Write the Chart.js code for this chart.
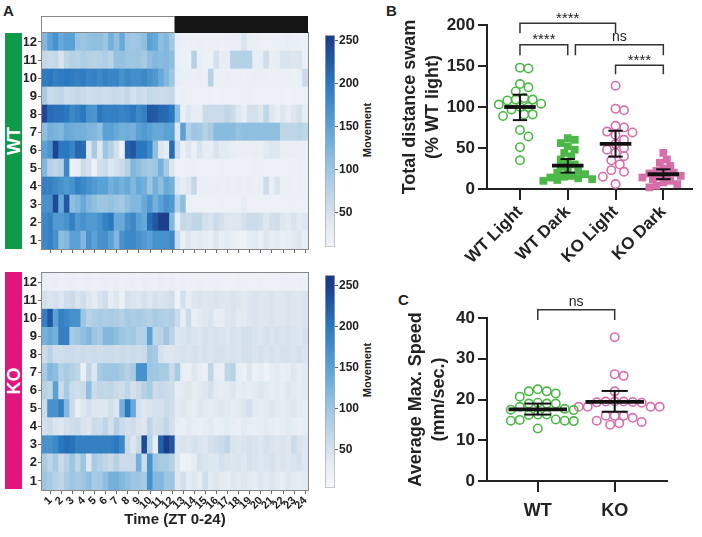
<!DOCTYPE html>
<html lang="en">
<head>
<meta charset="UTF-8">
<title>Movement</title>
<script src="https://cdn.jsdelivr.net/npm/chart.js@4.4.0/dist/chart.umd.min.js"></script>
<style>
    html, body { margin: 0; padding: 0; background: #fff; font-family: 'Liberation Sans', Arial, sans-serif; }
    #page { position: relative; width: 702px; height: 537px; overflow: hidden; }
    canvas { position: absolute; }
    .letter { position: absolute; font-weight: bold; font-size: 15px; color: #222; line-height: 1; }
    .side { position: absolute; left: 5px; width: 17px; }
    .side span, .rot span { position: absolute; left: 50%; top: 50%; white-space: nowrap; transform: translate(-50%, -50%) rotate(-90deg); }
    .side span { color: #fff; font-weight: bold; font-size: 18px; }
    .rot { position: absolute; width: 14px; height: 100px; }
    .rot span { font-size: 11px; font-weight: bold; color: #222; }
</style>
</head>
<body>
<div id="page">
    <div class="letter" style="left:3px;top:3px">A</div>
    <div class="letter" style="left:386px;top:3px">B</div>
    <div class="letter" style="left:398px;top:292px">C</div>
    <div class="side" style="top:33px;height:216px;background:#0e9a4b"><span>WT</span></div>
    <div class="side" style="top:272px;height:217px;background:#e0157d"><span>KO</span></div>
    <div class="rot" style="left:360px;top:80px"><span>Movement</span></div>
    <div class="rot" style="left:360px;top:320px"><span>Movement</span></div>
    <canvas id="heatWT" width="320" height="262" style="left:0;top:0"></canvas>
    <canvas id="heatKO" width="320" height="277" style="left:0;top:260px"></canvas>
    <canvas id="barWT" width="55" height="228" style="left:320px;top:27px"></canvas>
    <canvas id="barKO" width="55" height="229" style="left:320px;top:267px"></canvas>
    <canvas id="dist" width="322" height="262" style="left:380px;top:0"></canvas>
    <canvas id="speed" width="322" height="275" style="left:380px;top:262px"></canvas>
</div>
<script>
    const FONT = "'Liberation Sans', Arial, sans-serif";
    Chart.defaults.font.family = FONT;

    // tick labels
    const hourTicks = ['1','2','3','4','5','6','7','8','9','10','11','12','13','14','15','16','17','18','19','20','21','22','23','24'];
    const rowTicks = ['1','2','3','4','5','6','7','8','9','10','11','12'];
    const moveTicks = [50, 100, 150, 200, 250];
    const wtRange = [10, 256];
    const koRange = [3, 263];
    const lightHours = 12;

    // WT movement per half hour, fish 1..12 (first 24 bins light, last 24 dark)
    const wt1 = [180,190,170,110,120,150,150,120,170,150,170,170,150,120,170,180,180,170,160,150,170,170,170,180, 60,25,40,30,35,30,25,40,30,35,30,20,15,30,35,25,40,30,35,25,30,35,40,30];
    const wt2 = [180,190,160,160,170,190,160,170,160,160,170,190,200,140,140,170,180,150,140,210,230,250,250,120, 30,65,60,70,70,50,45,60,50,40,40,40,50,60,60,55,40,50,55,40,35,45,35,40];
    const wt3 = [170,170,240,140,230,110,120,140,120,110,100,100,105,100,95,110,120,120,140,160,130,150,170,160, 80,110,20,18,18,20,18,18,22,18,18,20,30,18,18,20,18,18,20,18,18,20,18,18];
    const wt4 = [190,190,180,170,160,170,190,180,170,160,150,150,130,140,130,140,120,140,130,100,130,110,140,130, 40,30,40,65,25,25,22,25,22,25,22,25,22,25,22,25,60,25,45,20,22,20,22,20];
    const wt5 = [120,80,70,80,180,20,25,60,50,20,50,60,40,50,60,80,120,110,100,90,100,130,90,40, 20,18,20,22,18,20,18,20,22,20,18,20,18,20,22,20,18,20,18,20,18,20,22,18];
    const wt6 = [150,165,245,200,200,185,215,210,40,90,40,100,80,50,20,220,230,200,200,180,110,40,30,210, 60,25,40,25,45,30,30,45,35,35,30,25,25,25,28,25,35,40,40,25,25,28,25,25];
    const wt7 = [110,130,125,120,140,135,130,130,125,120,110,150,150,140,130,135,130,150,160,150,140,140,150,150, 40,150,80,100,95,80,90,115,115,115,115,105,110,110,110,110,110,110,110,70,70,70,75,70];
    const wt8 = [245,210,205,205,200,180,190,200,170,165,200,190,190,190,185,190,200,180,190,230,225,215,210,200, 110,25,40,30,30,60,60,60,60,70,60,40,30,50,50,40,70,40,30,40,30,40,50,30];
    const wt9 = [90,60,65,70,55,60,65,60,55,60,60,55,60,62,55,65,50,60,55,65,60,58,60,65, 20,22,18,18,20,20,18,17,20,20,18,18,20,21,18,18,20,18,20,18,17,20,18,20];
    const wt10 = [195,200,190,195,200,195,190,195,185,190,180,190,185,185,170,180,175,175,180,170,160,140,120,100, 30,25,22,22,25,22,75,22,22,25,22,22,20,22,25,22,22,20,22,20,22,20,25,60];
    const wt11 = [65,60,65,45,70,80,75,85,80,75,80,85,75,105,105,100,100,100,90,110,120,115,120,110, 25,20,20,80,25,20,20,50,30,30,80,80,80,80,30,30,55,25,30,45,45,40,45,25];
    const wt12 = [120,150,170,140,150,150,105,100,105,110,110,100,130,110,140,100,95,100,110,150,140,110,120,95, 25,22,20,20,22,20,20,22,20,22,25,25,45,30,25,22,20,20,22,25,30,25,22,20];

    // KO movement per half hour, fish 1..12
    const ko1 = [100,90,80,70,90,100,90,100,110,90,95,110,130,130,120,110,100,100,90,170,120,120,100,100, 40,55,35,40,30,55,35,40,35,30,40,35,40,35,30,40,35,40,35,30,40,35,30,35];
    const ko2 = [90,70,90,60,80,100,70,100,40,90,80,70,60,80,60,60,60,130,60,170,100,90,90,80, 40,15,20,30,50,45,40,40,50,45,40,45,40,50,45,40,45,50,40,45,40,45,50,40];
    const ko3 = [170,170,180,200,210,205,190,190,190,190,190,190,190,200,180,60,40,60,240,80,30,220,255,230, 40,45,40,50,45,40,50,55,60,70,45,40,45,50,45,40,50,45,40,45,40,60,45,40];
    const ko4 = [50,60,45,40,50,55,60,45,40,60,55,70,50,80,60,50,55,45,40,70,50,55,70,50, 30,25,35,30,25,30,35,25,30,35,30,25,35,30,25,30,35,30,25,30,35,30,25,30];
    const ko5 = [60,170,170,190,120,60,25,40,50,40,40,40,55,40,130,200,140,50,40,45,50,50,60,55, 35,40,35,30,40,35,30,35,40,35,30,35,40,50,35,30,35,40,35,30,35,40,35,30];
    const ko6 = [80,70,150,60,90,60,55,60,110,60,70,65,70,60,55,70,50,60,80,90,60,65,60,55, 30,35,40,30,35,40,50,35,30,35,40,30,35,30,35,40,35,30,35,30,40,35,30,35];
    const ko7 = [90,120,110,80,90,80,70,25,70,40,90,100,100,100,90,80,90,170,170,100,95,90,90,60, 90,30,25,40,30,20,70,30,25,70,75,30,20,40,20,30,15,30,35,25,30,40,30,35];
    const ko8 = [60,75,55,55,60,60,55,60,55,60,55,60,60,55,60,55,60,55,60,100,90,50,40,40, 45,50,45,50,45,50,45,50,50,45,50,45,50,50,45,50,45,50,45,50,50,45,50,45];
    const ko9 = [130,140,130,190,190,90,100,110,120,100,90,120,120,110,100,90,95,80,80,150,70,75,100,75, 40,45,50,45,40,50,45,50,45,40,50,45,50,50,45,40,50,45,50,45,50,45,40,50];
    const ko10 = [190,230,150,190,180,170,170,100,75,85,90,85,90,85,80,90,85,90,85,80,90,85,80,85, 60,30,60,25,35,40,45,30,30,40,45,35,35,40,45,40,40,45,40,40,45,40,40,45];
    const ko11 = [50,45,50,40,55,60,45,55,40,30,45,55,30,40,20,50,45,40,50,40,50,45,50,55, 15,50,30,40,45,40,40,45,40,40,45,40,35,40,45,40,40,45,40,40,45,40,40,45];
    const ko12 = [25,22,25,20,22,25,20,22,25,20,22,25,22,25,20,22,25,20,25,22,20,25,22,25, 20,22,18,20,22,20,18,22,20,18,20,22,20,18,20,22,20,18,20,22,20,18,22,20];

    // B: total distance swam (% WT light)
    const distGroups = ['WT Light', 'WT Dark', 'KO Light', 'KO Dark'];
    const distTicks = [0, 50, 100, 150, 200];
    const wtLightDist = [148,147,128,124,119,111,109,109,108,104,103,100,100,97,91,91,89,72,64,51,35];
    const wtDarkDist = [62,60,56,52,48,44,40,36,33,30,27,24,22,20,18,16,15,14,13,12,11,10];
    const koLightDist = [126,98,96,77,75,70,69,66,60,55,50,48,44,40,35,30,23,21,15,6];
    const koDarkDist = [44,36,32,28,25,22,20,19,18,16,15,14,12,10,8,6,4,2];
    const distMean = [100, 28.5, 55, 18];
    const distLo = [84, 20, 39.5, 12];
    const distHi = [115, 36.6, 71, 24];

    // C: average max speed (mm/sec.)
    const speedGroups = ['WT', 'KO'];
    const speedTicks = [0, 10, 20, 30, 40];
    const wtSpeed = [22.5,22,22,21.5,20.7,19.2,19,19,19,18.2,17.7,17.5,17.4,16.3,16.3,16.2,15,14.8,14.7,14.8,15.1,12.9];
    const koSpeed = [35.3,26.2,25.8,22,19.5,19.5,19.5,19.4,19.3,19.2,18.2,18.2,18.2,18.2,16,16,16,15.5,14.8,14.5,14.2,13.8];
    const speedMean = [17.6, 19.4];
    const speedLo = [16.3, 17];
    const speedHi = [19, 22.1];

    const bracketsB = [
        { from: 1, to: 3, y: 202, tip: 190, label: '****' },
        { from: 1, to: 2, y: 176, tip: 163, label: '****' },
        { from: 2.16, to: 4, y: 176, tip: 163, label: 'ns' },
        { from: 3, to: 4, y: 151, tip: 140, label: '****' }
    ];
    const bracketsC = [{ from: 1, to: 2, y: 42, tip: 39.5, label: 'ns' }];

    const blueStops = [[0, '#f7f8fb'], [30, '#e7edf4'], [60, '#cbdbe9'], [100, '#9cc6e2'], [150, '#5aa2d5'], [200, '#2a78bf'], [250, '#1c3f8c'], [270, '#193780']];
    const green = '#4cb848', pink = '#d66eaa';

    function hexRgb(h) { return [1, 3, 5].map(i => parseInt(h.slice(i, i + 2), 16)); }
    function colorFor(v) {
        const s = blueStops;
        if (v <= s[0][0]) return s[0][1];
        for (let i = 1; i < s.length; i++) {
            if (v <= s[i][0]) {
                const t = (v - s[i - 1][0]) / (s[i][0] - s[i - 1][0]);
                const a = hexRgb(s[i - 1][1]), b = hexRgb(s[i][1]);
                return 'rgb(' + a.map((c, k) => Math.round(c + (b[k] - c) * t)).join(',') + ')';
            }
        }
        return s[s.length - 1][1];
    }

    const bold = (size) => ({ family: FONT, weight: 'bold', size });

    const frame = {
        id: 'frame',
        afterDatasetsDraw(chart) {
            const { ctx, chartArea: a } = chart;
            ctx.save();
            ctx.strokeStyle = '#888';
            ctx.lineWidth = 1;
            ctx.strokeRect(a.left - 0.5, a.top - 0.5, a.width + 1, a.height + 1);
            ctx.restore();
        }
    };

    const lightDark = {
        id: 'lightDark',
        afterDraw(chart) {
            const { ctx, chartArea: a, scales: { x } } = chart;
            const mid = (x.getPixelForValue(lightHours * 2 - 1) + x.getPixelForValue(lightHours * 2)) / 2;
            const top = a.top - 17;
            ctx.save();
            ctx.fillStyle = '#151515';
            ctx.fillRect(mid, top, a.right - mid, 17);
            ctx.strokeStyle = '#888';
            ctx.strokeRect(a.left - 0.5, top + 0.5, mid - a.left, 16);
            ctx.restore();
        }
    };

    function heatmap(id, rows, showLabels) {
        const labels = hourTicks.flatMap(h => ['', h]);
        return new Chart(document.getElementById(id), {
            type: 'bar',
            data: {
                labels,
                datasets: rows.map(row => ({
                    data: row.map(() => 1),
                    backgroundColor: row.map(colorFor),
                    borderWidth: 0,
                    barPercentage: 1,
                    categoryPercentage: 1
                }))
            },
            options: {
                responsive: false,
                animation: false,
                layout: { padding: { top: showLabels ? 13 : 33, left: 24, right: 12 } },
                plugins: { legend: { display: false }, tooltip: { enabled: false } },
                scales: {
                    x: {
                        stacked: true,
                        grid: { offset: false, drawOnChartArea: false, tickLength: 4, color: c => c.index % 2 ? '#666' : 'rgba(0,0,0,0)' },
                        border: { color: '#888' },
                        ticks: { display: showLabels, autoSkip: false, maxRotation: 45, minRotation: 45, padding: 0, color: '#222', font: bold(11) },
                        title: { display: showLabels, text: 'Time (ZT 0-24)', color: '#222', font: bold(15), padding: { top: 2, bottom: 8 } },
                        afterFit: s => { s.height = showLabels ? 47 : 13; }
                    },
                    y: {
                        stacked: true,
                        min: 0,
                        max: 12,
                        afterBuildTicks: s => { s.ticks = rowTicks.map((t, i) => ({ value: i + 0.5 })); },
                        ticks: { callback: (v, i) => rowTicks[i], color: '#222', font: bold(13), padding: 1 },
                        grid: { drawOnChartArea: false, tickLength: 4, color: '#666' },
                        border: { color: '#888' },
                        afterFit: s => { s.width = 18; }
                    }
                }
            },
            plugins: showLabels ? [frame] : [frame, lightDark]
        });
    }

    function colorbar(id, range) {
        const [lo, hi] = range;
        return new Chart(document.getElementById(id), {
            type: 'bar',
            data: {
                labels: [''],
                datasets: [{
                    data: [[lo, hi]],
                    backgroundColor: c => {
                        const ch = c.chart;
                        if (!ch.chartArea) return null;
                        const y = ch.scales.y;
                        const g = ch.ctx.createLinearGradient(0, y.getPixelForValue(lo), 0, y.getPixelForValue(hi));
                        g.addColorStop(0, colorFor(lo));
                        blueStops.forEach(([v]) => { if (v > lo && v < hi) g.addColorStop((v - lo) / (hi - lo), colorFor(v)); });
                        g.addColorStop(1, colorFor(hi));
                        return g;
                    },
                    borderColor: '#aaa',
                    borderWidth: 1,
                    borderSkipped: false,
                    barPercentage: 1,
                    categoryPercentage: 1
                }]
            },
            options: {
                responsive: false,
                animation: false,
                layout: { padding: { left: 5, top: 6, bottom: 6 } },
                plugins: { legend: { display: false }, tooltip: { enabled: false } },
                scales: {
                    x: { display: false },
                    y: {
                        position: 'right',
                        min: lo,
                        max: hi,
                        afterBuildTicks: s => { s.ticks = moveTicks.map(v => ({ value: v })); },
                        ticks: { color: '#222', font: bold(12), padding: 1 },
                        grid: { drawOnChartArea: false, tickLength: 3, color: '#666' },
                        border: { display: false },
                        afterFit: s => { s.width = 40; }
                    }
                }
            }
        });
    }

    // simple beeswarm so equal values sit side by side
    function swarm(values, center, pxPerY, pxPerX, diam) {
        const placed = [];
        const order = values.map((v, i) => i).sort((a, b) => values[b] - values[a]);
        const pts = [];
        order.forEach(i => {
            const py = values[i] * pxPerY;
            let off = 0;
            for (let k = 0; k < 80; k++) {
                const cand = k === 0 ? 0 : (k % 2 ? 1 : -1) * Math.ceil(k / 2) * diam / 2;
                if (placed.every(p => (p.x - cand) ** 2 + (p.y - py) ** 2 >= diam * diam * 0.9)) { off = cand; break; }
            }
            placed.push({ x: off, y: py });
            pts.push({ x: center + off / pxPerX, y: values[i] });
        });
        return pts;
    }

    function line(points, width, color) {
        return { showLine: true, data: points, borderColor: color || '#111', borderWidth: width, pointRadius: 0, clip: false, order: 0 };
    }

    function summary(means, lo, hi, half, cap) {
        const sets = [];
        means.forEach((m, i) => {
            const g = i + 1;
            sets.push(line([{ x: g - half, y: m }, { x: g + half, y: m }], 3.8));
            sets.push(line([{ x: g, y: lo[i] }, { x: g, y: hi[i] }], 2));
            sets.push(line([{ x: g - cap, y: lo[i] }, { x: g + cap, y: lo[i] }], 2));
            sets.push(line([{ x: g - cap, y: hi[i] }, { x: g + cap, y: hi[i] }], 2));
        });
        return sets;
    }

    function bracketLines(items) {
        return items.map(b => line([{ x: b.from, y: b.tip }, { x: b.from, y: b.y }, { x: b.to, y: b.y }, { x: b.to, y: b.tip }], 1.5, '#333'));
    }

    function bracketText(items) {
        return {
            id: 'bracketText',
            afterDatasetsDraw(chart) {
                const { ctx, scales: { x, y } } = chart;
                ctx.save();
                ctx.fillStyle = '#222';
                ctx.textAlign = 'center';
                ctx.textBaseline = 'bottom';
                items.forEach(b => {
                    ctx.font = (b.label === 'ns' ? '14px ' : '15px ') + FONT;
                    ctx.fillText(b.label, x.getPixelForValue((b.from + b.to) / 2), y.getPixelForValue(b.y) - (b.label === 'ns' ? 1 : -3));
                });
                ctx.restore();
            }
        };
    }

    function dots(points, color, filled) {
        return {
            data: points,
            pointStyle: filled ? 'rect' : 'circle',
            pointRadius: filled ? 5.5 : 4.2,
            borderWidth: filled ? 0 : 1.6,
            borderColor: color,
            backgroundColor: filled ? color : 'rgba(0,0,0,0)',
            clip: false,
            order: 2
        };
    }

    function axisX(min, max, groups, rotation, height, font) {
        return {
            type: 'linear',
            min, max,
            afterBuildTicks: s => { s.ticks = groups.map((g, i) => ({ value: i + 1 })); },
            ticks: { callback: (v, i) => groups[i], autoSkip: false, maxRotation: rotation, minRotation: rotation, color: '#222', font: bold(font), padding: rotation ? 2 : 8 },
            grid: { drawOnChartArea: false, tickLength: 11, color: '#222', lineWidth: 2 },
            border: { color: '#222', width: 2 },
            afterFit: s => { s.height = height; }
        };
    }

    function axisY(max, ticks, title, titlePad) {
        return {
            min: 0,
            max,
            afterBuildTicks: s => { s.ticks = ticks.map(v => ({ value: v })); },
            ticks: { color: '#222', font: bold(17), padding: 3 },
            grid: { drawOnChartArea: false, tickLength: 9, color: '#222', lineWidth: 2 },
            border: { color: '#222', width: 2 },
            title: { display: true, text: title, color: '#222', font: { family: FONT, weight: 'bold', size: 18, lineHeight: 1.25 }, padding: { top: titlePad } },
            afterFit: s => { s.width = 107; }
        };
    }

    heatmap('heatWT', [wt1, wt2, wt3, wt4, wt5, wt6, wt7, wt8, wt9, wt10, wt11, wt12], false);
    heatmap('heatKO', [ko1, ko2, ko3, ko4, ko5, ko6, ko7, ko8, ko9, ko10, ko11, ko12], true);
    colorbar('barWT', wtRange);
    colorbar('barKO', koRange);

    new Chart(document.getElementById('dist'), {
        type: 'scatter',
        data: {
            datasets: [
                ...summary(distMean, distLo, distHi, 0.33, 0.15),
                ...bracketLines(bracketsB),
                dots(swarm(wtLightDist, 1, 0.82, 48, 8.5), green, false),
                dots(swarm(wtDarkDist, 2, 0.82, 48, 7), green, true),
                dots(swarm(koLightDist, 3, 0.82, 48, 8.5), pink, false),
                dots(swarm(koDarkDist, 4, 0.82, 48, 7), pink, true)
            ]
        },
        options: {
            responsive: false,
            animation: false,
            layout: { padding: { top: 25, right: 10 } },
            plugins: { legend: { display: false }, tooltip: { enabled: false } },
            scales: {
                x: axisX(0.31, 4.6, distGroups, 45, 73, 17),
                y: axisY(200, distTicks, ['Total distance swam', '(% WT light)'], 19)
            }
        },
        plugins: [bracketText(bracketsB)]
    });

    new Chart(document.getElementById('speed'), {
        type: 'scatter',
        data: {
            datasets: [
                ...summary(speedMean, speedLo, speedHi, 0.38, 0.17),
                ...bracketLines(bracketsC),
                dots(swarm(wtSpeed, 1, 4.07, 77, 9), green, false),
                dots(swarm(koSpeed, 2, 4.07, 77, 9), pink, false)
            ]
        },
        options: {
            responsive: false,
            animation: false,
            layout: { padding: { top: 56, right: 35 } },
            plugins: { legend: { display: false }, tooltip: { enabled: false } },
            scales: {
                x: axisX(0.34, 2.68, speedGroups, 0, 56, 18),
                y: axisY(40, speedTicks, ['Average Max. Speed', '(mm/sec.)'], 25)
            }
        },
        plugins: [bracketText(bracketsC)]
    });
</script>
</body>
</html>
